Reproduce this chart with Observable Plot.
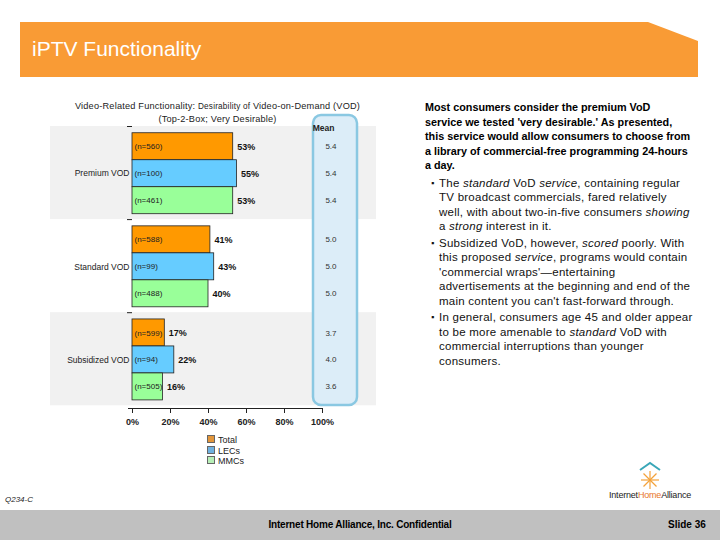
<!DOCTYPE html>
<html><head><meta charset="utf-8">
<script src="https://cdn.jsdelivr.net/npm/d3@7"></script>
<script src="https://cdn.jsdelivr.net/npm/@observablehq/plot@0.6"></script>
<style>
html,body{margin:0;padding:0;background:#fff;}
body{width:720px;height:540px;position:relative;overflow:hidden;font-family:"Liberation Sans",Arial,sans-serif;}
.abs{position:absolute;}
#banner{left:20px;top:22px;width:678px;height:55px;background:#f99b35;clip-path:polygon(0 0,628px 0,678px 19px,678px 55px,0 55px);}
#banner span{position:absolute;left:12px;top:15px;color:#fff;font-size:21px;}
#ctitle{left:45px;top:100px;width:345px;text-align:center;font-size:9.2px;color:#222;line-height:12px;letter-spacing:0.2px;z-index:2;}
#ctitle .sm{font-size:8.2px;}
#chart{left:0;top:100px;}
#legend{left:207px;top:435px;font-size:9px;color:#222;line-height:10.5px;}
#legend .sw{display:inline-block;width:6px;height:6px;border:1px solid #666;margin-right:3px;vertical-align:0px;}
#text{left:425px;top:100px;width:295px;color:#000;}
#text .b{font-weight:bold;font-size:10.8px;line-height:14.5px;white-space:nowrap;}
#text ul{margin:3px 0 0 0;padding:0 0 0 14px;list-style:none;font-size:11.5px;line-height:14.5px;color:#111;}
#text li{position:relative;white-space:nowrap;margin-bottom:2px;letter-spacing:0.25px;}
#text li:before{content:"\25AA";position:absolute;left:-8px;top:0;font-size:9px;}
#footer{left:0;top:510px;width:720px;height:30px;background:#c0c0c0;}
#conf{left:0;top:519px;width:720px;text-align:center;font-size:10px;font-weight:bold;letter-spacing:-0.2px;}
#slide{left:668px;top:519px;font-size:10px;font-weight:bold;}
#q{left:5px;top:495px;font-size:8px;font-style:italic;color:#222;}
#logoText{left:609px;top:490px;font-size:9px;color:#222;letter-spacing:-0.2px;}
#logo{left:630px;top:460px;}
svg text{font-family:"Liberation Sans",Arial,sans-serif;}
#chart g[aria-label^="x-axis"] text{font-weight:bold;}
</style></head>
<body>
<div id="banner" class="abs"><span>iPTV Functionality</span></div>
<div id="chart" class="abs"></div>
<div id="ctitle" class="abs">Video-Related Functionality: <span class="sm">Desirability of</span> Video-on-Demand (VOD)<br>(Top-2-Box; Very Desirable)</div>
<div id="legend" class="abs"></div>
<div id="text" class="abs">
<div class="b">Most consumers consider the premium VoD<br>service we tested 'very desirable.' As presented,<br>this service would allow consumers to choose from<br>a library of commercial-free programming 24-hours<br>a day.</div>
<ul>
<li>The <i>standard</i> VoD <i>service</i>, containing regular<br>TV broadcast commercials, fared relatively<br>well, with about two-in-five consumers <i>showing</i><br>a <i>strong</i> interest in it.</li>
<li>Subsidized VoD, however, <i>scored</i> poorly. With<br>this proposed <i>service</i>, programs would contain<br>'commercial wraps'—entertaining<br>advertisements at the beginning and end of the<br>main content you can't fast-forward through.</li>
<li>In general, consumers age 45 and older appear<br>to be more amenable to <i>standard</i> VoD with<br>commercial interruptions than younger<br>consumers.</li>
</ul>
</div>
<svg id="logo" class="abs" width="40" height="32" viewBox="0 0 40 32">
<polyline points="10,10 20,3 30,10" fill="none" stroke="#3aa7b8" stroke-width="2"/>
<g stroke="#f3a23a" stroke-width="1.2">
<line x1="20" y1="11" x2="20" y2="29"/><line x1="11" y1="20" x2="29" y2="20"/>
<line x1="13.5" y1="13.5" x2="26.5" y2="26.5"/><line x1="26.5" y1="13.5" x2="13.5" y2="26.5"/>
</g></svg>
<div id="logoText" class="abs">Internet<span style="color:#e8752a">Home</span>Alliance</div>
<div id="q" class="abs">Q234-C</div>
<div id="footer" class="abs"></div>
<div id="conf" class="abs">Internet Home Alliance, Inc. Confidential</div>
<div id="slide" class="abs">Slide 36</div>
<script>
// ---- data ----
const groups = ["Premium VOD", "Standard VOD", "Subsidized VOD"];
const series = ["Total", "LECs", "MMCs"];
const topBox = [[53, 55, 53], [41, 43, 40], [17, 22, 16]];
const nSizes = [[560, 100, 461], [588, 99, 488], [599, 94, 505]];
const means = [[5.4, 5.4, 5.4], [5.0, 5.0, 5.0], [3.7, 4.0, 3.6]];
const xTicks = [0, 20, 40, 60, 80, 100];
const colors = ["#ff9900", "#66ccff", "#99ff99"];

// ---- layout table (row slots) ----
const groupSpan = 3.45, barOffset = 0.25, yMax = 10.45;
const rows = [];
groups.forEach((g, gi) => series.forEach((s, si) => {
  const y1 = gi * groupSpan + barOffset + si;
  rows.push({group: g, series: s, value: topBox[gi][si], n: nSizes[gi][si], mean: means[gi][si], y1, y2: y1 + 1, ym: y1 + 0.5});
}));
const bands = groups.map((g, gi) => ({group: g, y1: gi * groupSpan, y2: (gi + 1) * groupSpan, shade: gi !== 1}));
const groupLabels = groups.map((g, gi) => ({group: g, y: gi * groupSpan + barOffset + 1.5}));

const chart = Plot.plot({
  width: 390, height: 335,
  marginLeft: 132, marginRight: 68, marginTop: 26, marginBottom: 27,
  style: {fontFamily: "Liberation Sans, Arial, sans-serif", fontSize: "9px", color: "#222", background: "transparent", overflow: "visible"},
  x: {domain: [0, 100], ticks: xTicks, tickFormat: d => d + "%", tickSize: 5, tickPadding: 5, label: null},
  y: {domain: [0, yMax], reverse: true, axis: null},
  color: {domain: series, range: colors},
  marks: [
    Plot.rect(bands.filter(d => d.shade), {y1: "y1", y2: "y2", fill: "#f1f1f1", insetLeft: -82, insetRight: -54}),
    Plot.rect([0], {fill: "#dcedf8", stroke: "#8ac8e2", strokeWidth: 2.5, rx: 8, insetLeft: 181, insetRight: -35, insetTop: -11, insetBottom: 3}),
    Plot.ruleY(bands, {y: "y1", x1: 0, x2: 0, insetLeft: -5, stroke: "#222", strokeWidth: 1}),
    Plot.rect(rows, {x1: 0, x2: "value", y1: "y1", y2: "y2", fill: "series", stroke: "#222", strokeWidth: 0.8}),
    Plot.text(rows, {x: 0, y: "ym", text: d => `(n=${d.n})`, textAnchor: "start", dx: 2, fontSize: 8, fill: "#222"}),
    Plot.text(rows, {x: "value", y: "ym", text: d => d.value + "%", textAnchor: "start", dx: 4, fontSize: 9, fontWeight: "bold", fill: "#111"}),
    Plot.text(rows, {frameAnchor: "right", y: "ym", text: d => d.mean.toFixed(1), dx: 14, fontSize: 8, fill: "#333"}),
    Plot.text(["Mean"], {frameAnchor: "top-right", text: d => d, dx: 12, dy: -2, fontSize: 8.5, fontWeight: "bold", fill: "#222"}),
    Plot.text(groupLabels, {frameAnchor: "left", y: "y", text: "group", textAnchor: "end", dx: -3, fontSize: 8.5, fill: "#222", style: "letter-spacing:0.8px"}),
    Plot.ruleY([yMax], {stroke: "#222", strokeWidth: 1, insetLeft: -4})
  ]
});
document.getElementById("chart").appendChild(chart);

// legend
const legendColors = ["#e3963a", "#6fb1e0", "#b7efb7"];
document.getElementById("legend").innerHTML = series.map((s, i) =>
  `<div><span class="sw" style="background:${legendColors[i]}"></span>${s}</div>`).join("");
</script>
</body></html>
